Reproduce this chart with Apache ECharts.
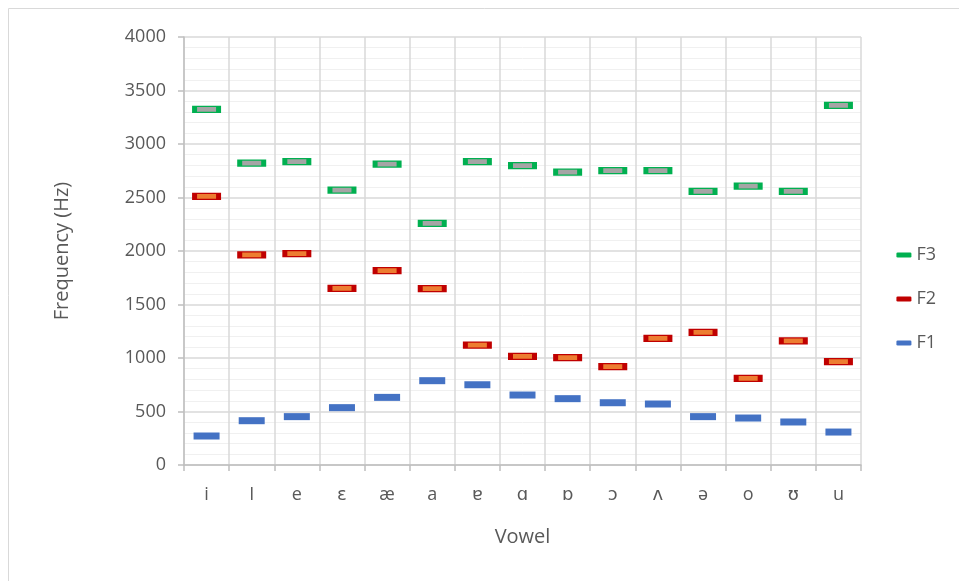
<!DOCTYPE html>
<html>
<head>
<meta charset="utf-8">
<script src="https://cdn.jsdelivr.net/npm/echarts@6/dist/echarts.min.js"></script>
<style>
  html, body { margin: 0; padding: 0; background: #fff; }
  #chart { width: 959px; height: 581px; }
</style>
</head>
<body>
<div id="chart"></div>
<script>
// vowel categories
const vowels = ['i', 'I', 'e', 'ɛ', 'æ', 'a', 'ɐ', 'ɑ', 'ɒ', 'ɔ', 'ʌ', 'ə', 'o', 'ʊ', 'u'];

// formant frequencies (Hz)
const f1 = [271, 414, 452, 536, 632, 788, 750, 654, 620, 582, 570, 452, 439, 402, 308];
const f2 = [2511, 1963, 1975, 1650, 1816, 1648, 1121, 1016, 1003, 919, 1184, 1240, 810, 1159, 965];
const f3 = [3324, 2822, 2835, 2570, 2813, 2259, 2835, 2798, 2738, 2751, 2751, 2558, 2607, 2558, 3362];

const font = "'Open Sans', 'DejaVu Sans', sans-serif";
const textColor = '#595959';

const myChart = echarts.init(document.getElementById('chart'));

const option = {
  animation: false,
  textStyle: { fontFamily: font },
  grid: { left: 184, right: 98, top: 37, bottom: 116 },
  graphic: [
    {
      type: 'rect',
      shape: { x: 8.5, y: 8.5, width: 1000, height: 1000 },
      style: { fill: 'none', stroke: '#D9D9D9', lineWidth: 1 },
      silent: true
    }
  ],
  legend: {
    orient: 'vertical',
    right: 18,
    top: 241,
    itemGap: 26,
    itemWidth: 15,
    itemHeight: 5,
    icon: 'roundRect',
    textStyle: { fontFamily: font, fontSize: 18, color: textColor },
    data: [
      { name: 'F3', itemStyle: { color: '#00B050', borderWidth: 0, opacity: 1 } },
      { name: 'F2', itemStyle: { color: '#C00000', borderWidth: 0, opacity: 1 } },
      { name: 'F1', itemStyle: { color: '#4472C4', borderWidth: 0, opacity: 1 } }
    ]
  },
  xAxis: {
    type: 'category',
    data: vowels,
    boundaryGap: true,
    name: 'Vowel',
    nameLocation: 'middle',
    nameGap: 62,
    nameTextStyle: { fontFamily: font, fontSize: 20, color: textColor },
    axisLine: { show: true, lineStyle: { color: '#BFBFBF', width: 1.5 } },
    axisTick: { show: true, length: 6, lineStyle: { color: '#BFBFBF', width: 1.5 } },
    axisLabel: { fontFamily: font, fontSize: 18, color: textColor, margin: 21 },
    splitLine: { show: true, lineStyle: { color: '#D9D9D9', width: 1.5 } }
  },
  yAxis: {
    type: 'value',
    min: 0,
    max: 4000,
    interval: 500,
    name: 'Frequency (Hz)',
    nameLocation: 'middle',
    nameGap: 112,
    nameTextStyle: { fontFamily: font, fontSize: 20, color: textColor },
    axisLine: { show: true, lineStyle: { color: '#BFBFBF', width: 1.5 } },
    axisTick: { show: true, length: 6, lineStyle: { color: '#BFBFBF', width: 1.5 } },
    axisLabel: { fontFamily: font, fontSize: 18, color: textColor, margin: 18, formatter: v => String(v) },
    splitLine: { show: true, lineStyle: { color: '#D9D9D9', width: 1.5 } },
    minorTick: { show: false, splitNumber: 5 },
    minorSplitLine: { show: true, lineStyle: { color: '#F0F0F0', width: 1 } }
  },
  series: [
    {
      name: 'F3',
      type: 'scatter',
      data: f3,
      symbol: 'rect',
      symbolSize: [24, 6],
      itemStyle: { color: '#A5A5A5', borderColor: '#00B050', borderWidth: 2.5, opacity: 1 },
      z: 3
    },
    {
      name: 'F2',
      type: 'scatter',
      data: f2,
      symbol: 'rect',
      symbolSize: [24, 6],
      itemStyle: { color: '#ED7D31', borderColor: '#C00000', borderWidth: 2.5, opacity: 1 },
      z: 3
    },
    {
      name: 'F1',
      type: 'scatter',
      data: f1,
      symbol: 'rect',
      symbolSize: [26, 7],
      itemStyle: { color: '#4472C4', borderWidth: 0, opacity: 1 },
      z: 3
    }
  ]
};

myChart.setOption(option);
</script>
</body>
</html>
